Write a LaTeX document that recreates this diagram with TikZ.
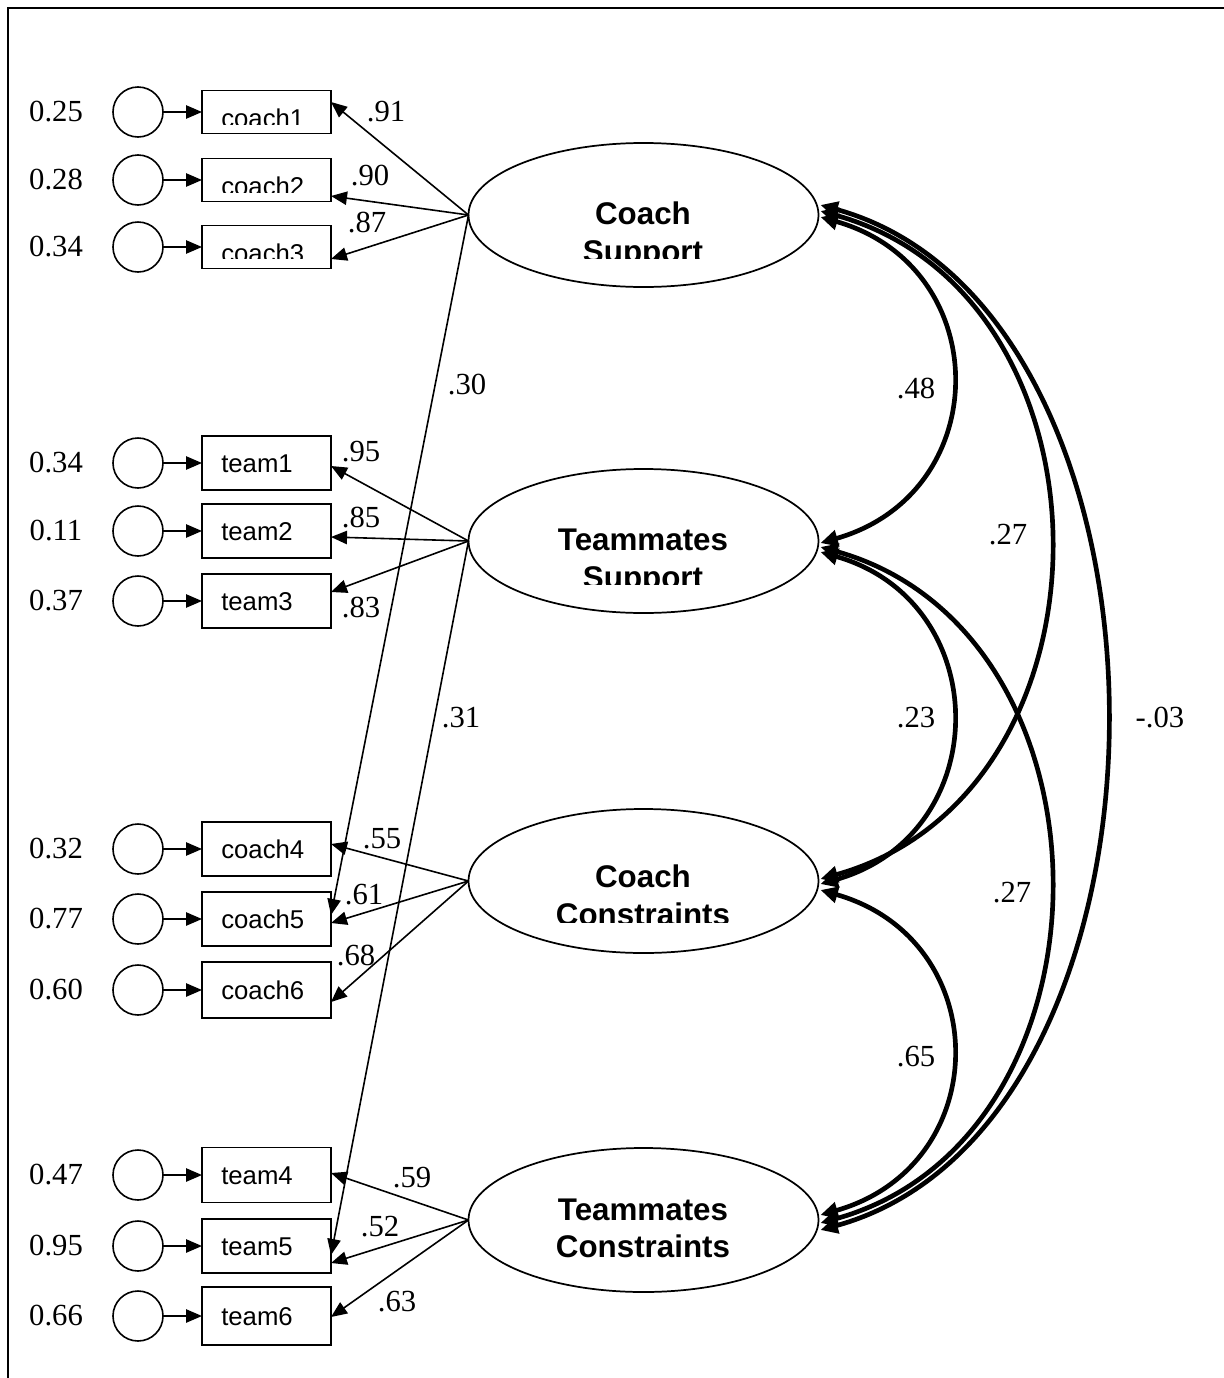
\documentclass[tikz,border=0pt]{standalone}
\usepackage{fontspec}
\setmainfont{Liberation Serif}
\setsansfont{Liberation Sans}
\usetikzlibrary{arrows.meta,shapes.geometric,calc}
\begin{document}
\begin{tikzpicture}[x=0.75pt,y=-0.75pt,
 num/.style={font=\fontsize{23}{27}\selectfont, inner sep=0pt},
 obs/.style={draw, line width=1.4pt, minimum width=96.75pt, inner sep=0pt, outer sep=0pt},
 err/.style={draw, circle, line width=1.2pt, minimum size=37.5pt, inner sep=0pt, outer sep=0pt},
 lat/.style={draw, ellipse, line width=1.3pt, minimum width=262.5pt, minimum height=108pt, inner sep=0pt, outer sep=0pt},
 vtxt/.style={font=\sffamily\fontsize{19.3}{22}\selectfont, inner sep=0pt, anchor=base west},
 ltxt/.style={font=\sffamily\bfseries\fontsize{23.5}{27}\selectfont, inner sep=0pt, anchor=base},
 load/.style={line width=1.2pt, -{Triangle[length=12pt,width=10pt]}},
 cov/.style={line width=3.5pt, {Triangle[length=13pt,width=12pt]}-{Triangle[length=13pt,width=12pt]}},
]
\useasboundingbox (0,0) rectangle (1224,1378);
\draw[line width=1.5pt] (8,1378) -- (8,8) -- (1224,8);

% observed variables
\node[obs, minimum height=32.25pt] (c1) at (266.5,112) {};
\node[obs, minimum height=32.25pt] (c2) at (266.5,180) {};
\node[obs, minimum height=32.25pt] (c3) at (266.5,247) {};
\node[obs, minimum height=40.5pt] (t1) at (266.5,463) {};
\node[obs, minimum height=40.5pt] (t2) at (266.5,531) {};
\node[obs, minimum height=40.5pt] (t3) at (266.5,601) {};
\node[obs, minimum height=40.5pt] (c4) at (266.5,849) {};
\node[obs, minimum height=40.5pt] (c5) at (266.5,919) {};
\node[obs, minimum height=42pt] (c6) at (266.5,990) {};
\node[obs, minimum height=41.25pt] (t4) at (266.5,1175) {};
\node[obs, minimum height=40pt] (t5) at (266.5,1246) {};
\node[obs, minimum height=43.5pt] (t6) at (266.5,1316) {};

% clipped labels of coach1-3
\begin{scope}
\clip (202,92) rectangle (331,124);
\node[vtxt] (c1l) at (221,127) {coach1};
\end{scope}
\begin{scope}
\clip (202,159) rectangle (331,192);
\node[vtxt] (c2l) at (221,195) {coach2};
\end{scope}
\begin{scope}
\clip (202,226) rectangle (331,258);
\node[vtxt] (c3l) at (221,262) {coach3};
\end{scope}
\node[vtxt] (t1l) at (221,472) {team1};
\node[vtxt] (t2l) at (221,540) {team2};
\node[vtxt] (t3l) at (221,610) {team3};
\node[vtxt] (c4l) at (221,858) {coach4};
\node[vtxt] (c5l) at (221,928) {coach5};
\node[vtxt] (c6l) at (221,999) {coach6};
\node[vtxt] (t4l) at (221,1184) {team4};
\node[vtxt] (t5l) at (221,1255) {team5};
\node[vtxt] (t6l) at (221,1325) {team6};

% error terms
\foreach \v/\y/\val in {c1/112/0.25, c2/180/0.28, c3/247/0.34, t1/463/0.34, t2/531/0.11, t3/601/0.37, c4/849/0.32, c5/919/0.77, c6/990/0.60, t4/1175/0.47, t5/1246/0.95, t6/1316/0.66}{
  \node[err] (e\v) at (138,\y) {};
  \node[num, anchor=base] (n\v) at (56,\y+9.5) {\val};
  \draw[load] (e\v.east) -- (\v.west);
}

% latent variables
\node[lat] (CS) at (643.5,215) {};
\node[lat] (TS) at (643.5,541) {};
\node[lat] (CC) at (643.5,881) {};
\node[lat] (TC) at (643.5,1220) {};

\node[ltxt] (CSa) at (643,224) {Coach};
\begin{scope}
\clip (470,230) rectangle (818,258);
\node[ltxt] (CSb) at (643,262) {Support};
\end{scope}
\node[ltxt] (TSa) at (643,550) {Teammates};
\begin{scope}
\clip (470,556) rectangle (818,584);
\node[ltxt] (TSb) at (643,588) {Support};
\end{scope}
\node[ltxt] (CCa) at (643,887) {Coach};
\begin{scope}
\clip (470,893) rectangle (818,922);
\node[ltxt] (CCb) at (643,925) {Constraints};
\end{scope}
\node[ltxt] (TCa) at (643,1220) {Teammates};
\node[ltxt] (TCb) at (643,1257) {Constraints};

% loadings
\draw[load] (CS.west) -- ($(c1.east)+(0,-10)$);
\draw[load] (CS.west) -- ($(c2.east)+(0,16)$);
\draw[load] (CS.west) -- ($(c3.east)+(0,12)$);
\draw[load] (CS.west) -- ($(c5.east)+(0,-4)$);
\draw[load] (TS.west) -- ($(t1.east)+(0,3)$);
\draw[load] (TS.west) -- ($(t2.east)+(0,6)$);
\draw[load] (TS.west) -- ($(t3.east)+(0,-9)$);
\draw[load] (TS.west) -- ($(t5.east)+(0,9)$);
\draw[load] (CC.west) -- ($(c4.east)+(0,-5)$);
\draw[load] (CC.west) -- ($(c5.east)+(0,4)$);
\draw[load] (CC.west) -- ($(c6.east)+(0,12)$);
\draw[load] (TC.west) -- ($(t4.east)+(0,-2)$);
\draw[load] (TC.west) -- ($(t5.east)+(0,17)$);
\draw[load] (TC.west) -- ($(t6.east)+(0,1)$);

\node[num] (l91) at (386,112) {.91};
\node[num] (l90) at (370,176) {.90};
\node[num] (l87) at (367,223) {.87};
\node[num] (l30) at (467,385) {.30};
\node[num] (l95) at (361,452) {.95};
\node[num] (l85) at (361,518) {.85};
\node[num] (l83) at (361,608) {.83};
\node[num] (l31) at (461,718) {.31};
\node[num] (l55) at (382,839) {.55};
\node[num] (l61) at (364,895) {.61};
\node[num] (l68) at (356,956) {.68};
\node[num] (l59) at (412,1178) {.59};
\node[num] (l52) at (380,1227) {.52};
\node[num] (l63) at (397,1302) {.63};

% covariances
\coordinate (cs1) at ($(CS.east)+(2,-10)$);
\coordinate (cs2) at ($(CS.east)+(2,-4)$);
\coordinate (cs3) at ($(CS.east)+(2,2)$);
\coordinate (ts1) at ($(TS.east)+(2,2)$);
\coordinate (ts2) at ($(TS.east)+(2,11)$);
\coordinate (ts3) at ($(TS.east)+(2,6)$);
\coordinate (cc1) at ($(CC.east)+(2,-2)$);
\coordinate (cc2) at ($(CC.east)+(2,3)$);
\coordinate (cc3) at ($(CC.east)+(2,9)$);
\coordinate (tc1) at ($(TC.east)+(2,-5)$);
\coordinate (tc2) at ($(TC.east)+(2,3)$);
\coordinate (tc3) at ($(TC.east)+(2,10)$);

\draw[cov] (cs3) .. controls ($(cs3)+(175,50)$) and ($(ts1)+(175,-50)$) .. (ts1);
\draw[cov] (cs2) .. controls ($(cs2)+(305,85)$) and ($(cc1)+(305,-85)$) .. (cc1);
\draw[cov] (cs1) .. controls ($(cs1)+(380,105)$) and ($(tc3)+(380,-105)$) .. (tc3);
\draw[cov] (ts2) .. controls ($(ts2)+(175,50)$) and ($(cc2)+(175,-50)$) .. (cc2);
\draw[cov] (ts3) .. controls ($(ts3)+(305,85)$) and ($(tc2)+(305,-85)$) .. (tc2);
\draw[cov] (cc3) .. controls ($(cc3)+(175,50)$) and ($(tc1)+(175,-50)$) .. (tc1);

\node[num] (k48) at (916,389) {.48};
\node[num] (k27a) at (1008,535) {.27};
\node[num] (k03) at (1160,718) {-.03};
\node[num] (k23) at (916,718) {.23};
\node[num] (k27b) at (1012,893) {.27};
\node[num] (k65) at (916,1057) {.65};
\end{tikzpicture}
\end{document}
